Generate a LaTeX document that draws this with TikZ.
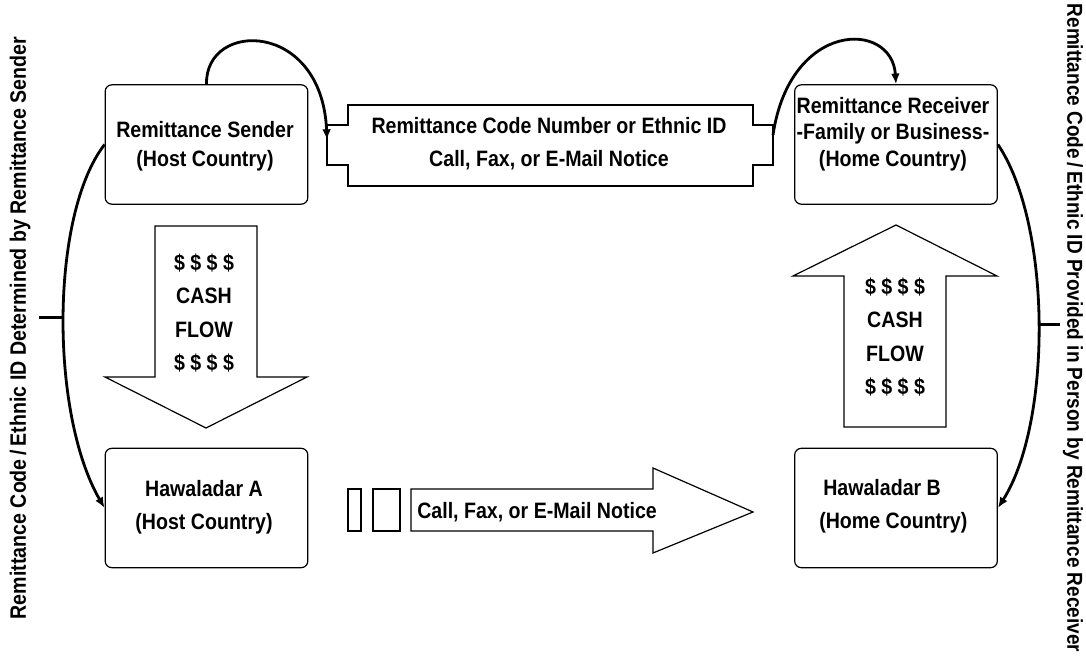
\documentclass[tikz,border=0pt]{standalone}
\usepackage{fontspec}
\setmainfont{Liberation Sans}[FakeStretch=0.88]
\usetikzlibrary{arrows.meta}

\begin{document}
\begin{tikzpicture}[x=0.75pt, y=-0.75pt,
    party/.style={draw, line width=0.9pt, rounded corners=5pt, minimum width=152pt, minimum height=89.5pt, inner sep=0pt},
    txt/.style={font=\bfseries\fontsize{16.7}{25}\selectfont, align=center, inner sep=0pt},
    blockarrow/.style={draw, line width=0.9pt, line join=miter},
    flow/.style={line width=2.1pt, -{Latex[length=8pt,width=6.5pt]}}]
				\useasboundingbox (0,0) rectangle (1086,656);

				% Parties
				\node[party] (send) at (206.5,144.5) {};
				\node[party] (recv) at (896,144.5) {};
				\node[party] (hawA) at (206.5,508) {};
				\node[party] (hawB) at (896,508) {};
				\node[txt] (sendtxt) at (205,146) {Remittance Sender\\[-3pt](Host Country)};
				\node[txt] (recvtxt) at (893,134) {Remittance Receiver\\[-5pt]-Family or Business-\\[-5pt](Home Country)};
				\node[txt] (hawAtxt) at (204,507) {Hawaladar A\\(Host Country)};
				\node[txt, align=left, anchor=west] (hawBtxt) at (819,506) {\hspace*{3pt}Hawaladar B\\(Home Country)};

				% Code notice
				\draw[blockarrow] (348,105) -- (753,105) -- (753,125) -- (773,125) -- (773,165) -- (753,165)
					-- (753,186) -- (348,186) -- (348,165) -- (327,165) -- (327,125) -- (348,125) -- cycle;
				\coordinate (codeL) at (327,140);
				\coordinate (codeR) at (773,135);
				\node[txt] (codetxt) at (549,143.5) {Remittance Code Number or Ethnic ID\\Call, Fax, or E-Mail Notice};

				% Cash flow down
				\draw[blockarrow] (155,226) -- (257,226) -- (257,377) -- (307,377) -- (206,428) -- (105,377) -- (155,377) -- cycle;
				\node[txt] (cashA) at (204,313) {\$ \$ \$ \$\\CASH\\FLOW\\\$ \$ \$ \$};

				% Cash flow up
				\draw[blockarrow] (844,427) -- (946,427) -- (946,276) -- (997,276) -- (896,225) -- (793,276) -- (844,276) -- cycle;
				\node[txt] (cashB) at (895,337) {\$ \$ \$ \$\\CASH\\FLOW\\\$ \$ \$ \$};

				% Notice between hawaladars
				\draw[blockarrow] (348,489) rectangle (361,531);
				\draw[blockarrow] (373,489) rectangle (400,531);
				\draw[blockarrow] (411,489) -- (653,489) -- (653,468) -- (753,512) -- (653,553) -- (653,531) -- (411,531) -- cycle;
				\node[txt, anchor=west] (noticetxt) at (417,512) {Call, Fax, or E-Mail Notice};

				% Code loops
				\draw[flow] (send.north) .. controls (205,20) and (322,20) .. (codeL);
				\draw[flow] (codeR) .. controls (790,20) and (892,20) .. (recv.north);
				\draw[flow] (send.west) .. controls (50,215) and (50,414) .. coordinate[pos=0.5] (ltick) (hawA.west);
				\draw[flow] (recv.east) .. controls (1052,225) and (1052,423) .. coordinate[pos=0.5] (rtick) (hawB.east);
				\draw[line width=1.6pt] (ltick) -- (39,317 |- ltick);
				\draw[line width=1.6pt] (rtick) -- (1060,325 |- rtick);

				% Side labels
				\node[txt, rotate=90] (senderid) at (20,328) {Remittance Code\,/\,Ethnic ID Determined by Remittance Sender};
				\node[txt, rotate=-90, font=\bfseries\fontsize{16.2}{20}\selectfont] (receiverid) at (1073,328) {Remittance Code\,/\,Ethnic ID Provided in Person by Remittance Receiver};
			\end{tikzpicture}
\end{document}
